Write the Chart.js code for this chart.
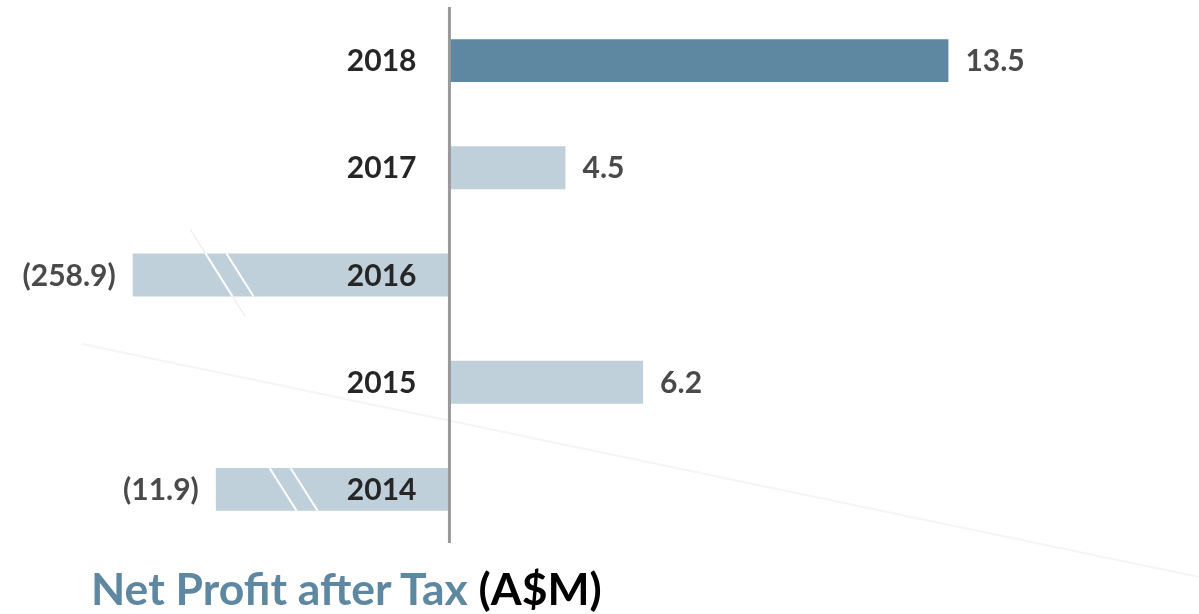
<!DOCTYPE html>
<html>
<head>
<meta charset="utf-8">
<script src="https://cdn.jsdelivr.net/npm/chart.js@4/dist/chart.umd.min.js"></script>
<style>
  html, body { margin: 0; padding: 0; background: #fff; }
  #wrap { position: relative; width: 1199px; height: 614px; overflow: hidden; }
  #title {
    position: absolute; left: 91px; top: 561px;
    font-family: Lato, "Noto Sans", sans-serif; font-weight: 700; font-size: 44.5px;
    color: #5e87a1; white-space: nowrap; line-height: 53px;
  }
  #title span { color: #000; }
</style>
</head>
<body>
<div id="wrap">
  <canvas id="npat"></canvas>
  <div id="title">Net Profit after Tax <span>(A$M)</span></div>
</div>
<script>
// Net profit after tax by year. The chart uses a broken axis, so the bar
// lengths are read off the picture separately from the printed values.
const YEARS        = ["2018", "2017", "2016", "2015", "2014"];
const NPAT         = [13.5, 4.5, -258.9, 6.2, -11.9];     // printed values (A$M)
const BAR_SHOWN    = [13.5, 3.14, -8.57, 5.24, -6.32];    // drawn extent on the broken axis
const HIGHLIGHT    = "2018";

const DARK  = "#5e87a1";
const LIGHT = "#bfd0db";
const FONT  = "Lato, 'Noto Sans', sans-serif";

function fmt(v) {
  return v < 0 ? `(${Math.abs(v).toFixed(1)})` : v.toFixed(1);
}

// faint diagonal stroke across the slide background
const backdrop = {
  id: "backdrop",
  beforeDraw(chart) {
    const ctx = chart.ctx;
    ctx.save();
    ctx.strokeStyle = "#f5f5f5";
    ctx.lineWidth = 2;
    ctx.beginPath();
    ctx.moveTo(82, 344);
    ctx.lineTo(1199, 577);
    ctx.stroke();
    ctx.restore();
  },
};

// zero line, break marks, year + value labels
const decorations = {
  id: "decorations",
  afterDatasetsDraw(chart) {
    const ctx = chart.ctx;
    const x = chart.scales.x;
    const area = chart.chartArea;
    const zero = x.getPixelForValue(0);
    const bars = chart.getDatasetMeta(0).data;

    ctx.save();

    // break marks on truncated negative bars
    bars.forEach((bar, i) => {
      if (NPAT[i] >= 0) return;
      const left = bar.x;
      const top = bar.y - bar.height / 2;
      const bottom = bar.y + bar.height / 2;
      const len = zero - left;
      const x1 = left + len * 0.23;
      const slant = 27;
      const gap = 21;
      const k = slant / (bottom - top);
      if (NPAT[i] < -100) {
        ctx.strokeStyle = "#efefef";
        ctx.lineWidth = 1.5;
        ctx.beginPath();
        ctx.moveTo(x1 - k * 24, top - 24);
        ctx.lineTo(x1 + slant + k * 20, bottom + 20);
        ctx.stroke();
      }
      ctx.strokeStyle = "#ffffff";
      ctx.lineWidth = 2;
      [0, gap].forEach(off => {
        ctx.beginPath();
        ctx.moveTo(x1 + off, top);
        ctx.lineTo(x1 + off + slant, bottom);
        ctx.stroke();
      });
    });

    // vertical axis at zero
    ctx.fillStyle = "#999999";
    ctx.fillRect(zero - 1.5, area.top, 3, area.bottom - area.top);

    // labels
    ctx.font = `700 30px ${FONT}`;
    ctx.textBaseline = "middle";
    bars.forEach((bar, i) => {
      const y = bar.y + 1;
      ctx.fillStyle = "#262626";
      ctx.textAlign = "right";
      ctx.fillText(YEARS[i], zero - 33, y);

      ctx.fillStyle = "#4a4a4a";
      if (NPAT[i] >= 0) {
        ctx.textAlign = "left";
        ctx.fillText(fmt(NPAT[i]), bar.x + 17, y);
      } else {
        ctx.textAlign = "right";
        ctx.fillText(fmt(NPAT[i]), bar.x - 17, y);
      }
    });

    ctx.restore();
  },
};

new Chart(document.getElementById("npat"), {
  type: "bar",
  data: {
    labels: YEARS,
    datasets: [{
      data: BAR_SHOWN,
      backgroundColor: YEARS.map(y => (y === HIGHLIGHT ? DARK : LIGHT)),
      borderWidth: 0,
      barPercentage: 0.4,
      categoryPercentage: 1,
    }],
  },
  options: {
    indexAxis: "y",
    responsive: true,
    maintainAspectRatio: false,
    animation: false,
    layout: { padding: { left: 0, right: 0, top: 7, bottom: 71 } },
    plugins: { legend: { display: false }, tooltip: { enabled: false } },
    scales: {
      x: { display: false, min: -12.16, max: 20.28 },
      y: { display: false },
    },
  },
  plugins: [backdrop, decorations],
});
</script>
</body>
</html>
